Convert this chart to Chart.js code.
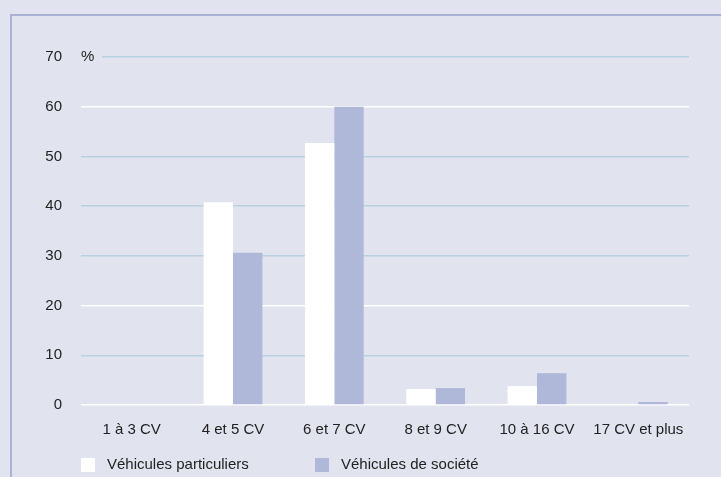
<!DOCTYPE html>
<html>
<head>
<meta charset="utf-8">
<script src="https://cdn.jsdelivr.net/npm/chart.js@4.4.0/dist/chart.umd.min.js"></script>
<style>
  html, body { margin: 0; padding: 0; background: #e1e4ef; }
  #wrap { width: 721px; height: 477px; position: relative; }
</style>
</head>
<body>
<div id="wrap"><canvas id="wykres" width="721" height="477"></canvas></div>
<script>
// dane wykresu
const categories = ['1 à 3 CV', '4 et 5 CV', '6 et 7 CV', '8 et 9 CV', '10 à 16 CV', '17 CV et plus']
const particuliers = [0, 40.8, 52.7, 3.2, 3.8, 0]
const societe = [0, 30.6, 60.0, 3.4, 6.4, 0.6]
const seriesNames = ['Véhicules particuliers', 'Véhicules de société']
const yTicks = [0, 10, 20, 30, 40, 50, 60, 70]
const whiteLines = [0, 20, 60]

const bg = '#e1e4ef'
const font = { family: "'Liberation Sans', Arial, sans-serif", size: 15 }

// tło, ramka, znak % i legenda
const decor = {
  id: 'decor',
  beforeDraw(chart) {
    const c = chart.ctx
    c.save()
    c.fillStyle = bg
    c.fillRect(0, 0, chart.width, chart.height)
    c.strokeStyle = '#a9b2d6'
    c.lineWidth = 2
    c.strokeRect(11, 15, chart.width + 20, chart.height + 20)
    c.restore()
  },
  afterDraw(chart) {
    const c = chart.ctx
    const y = chart.scales.y
    const top = y.getPixelForValue(70)
    c.save()
    c.fillStyle = bg
    c.fillRect(chart.chartArea.left - 1, top - 3, 22, 6)
    c.fillStyle = '#222'
    c.font = font.size + 'px ' + font.family
    c.textBaseline = 'middle'
    c.fillText('%', 81, top)
    // legenda
    const items = [{ x: 81 }, { x: 315 }]
    chart.data.datasets.forEach((ds, i) => {
      const x = items[i].x
      c.fillStyle = ds.backgroundColor
      c.fillRect(x, 458, 14, 14)
      c.fillStyle = '#222'
      c.fillText(ds.label, x + 26, 465)
    })
    c.restore()
  }
}

new Chart(document.getElementById('wykres'), {
  type: 'bar',
  data: {
    labels: categories,
    datasets: [
      { label: seriesNames[0], data: particuliers, backgroundColor: '#ffffff' },
      { label: seriesNames[1], data: societe, backgroundColor: '#afb8d8' }
    ]
  },
  options: {
    responsive: false,
    animation: false,
    events: [],
    layout: { padding: { top: 57, right: 32, bottom: 0, left: 0 } },
    datasets: { bar: { barPercentage: 1, categoryPercentage: 0.58, borderWidth: 0 } },
    plugins: { legend: { display: false }, tooltip: { enabled: false } },
    scales: {
      x: {
        grid: { display: false, drawTicks: false },
        border: { display: false },
        ticks: { color: '#222', font: font, padding: 16, maxRotation: 0 },
        afterFit(s) { s.height = 72 }
      },
      y: {
        min: 0,
        max: 70,
        afterBuildTicks(s) { s.ticks = yTicks.map(v => ({ value: v })) },
        grid: {
          drawTicks: false,
          lineWidth: 1.5,
          color: ctx => whiteLines.includes(ctx.tick.value) ? '#ffffff' : '#b9cfe2'
        },
        border: { display: false },
        ticks: { color: '#222', font: font, padding: 19 },
        afterFit(s) { s.width = 81 }
      }
    }
  },
  plugins: [decor]
})
</script>
</body>
</html>
